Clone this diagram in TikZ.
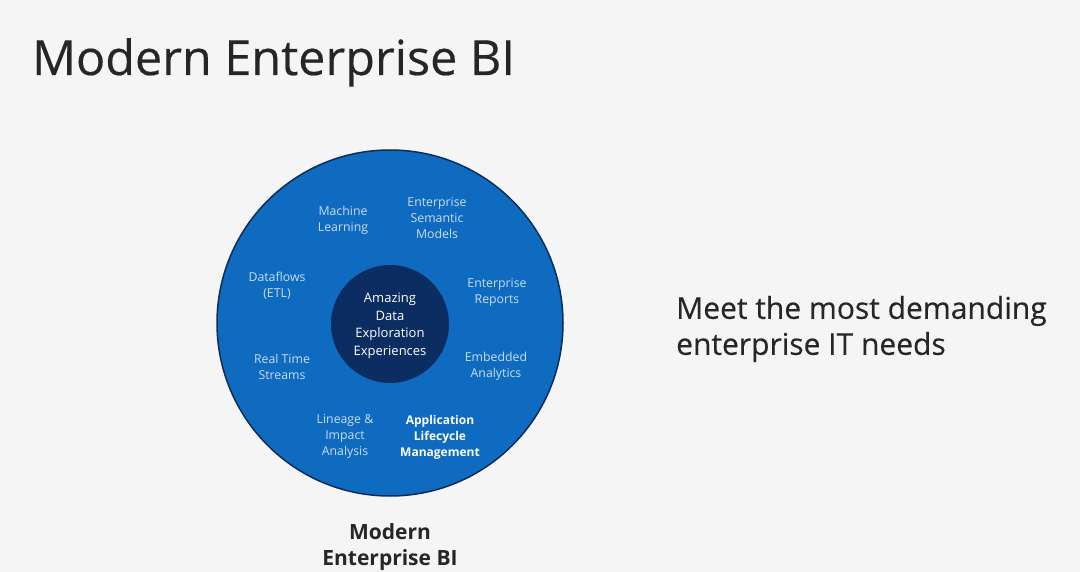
\documentclass[tikz,border=0pt]{standalone}
\usepackage{fontspec}
\setmainfont{Open Sans}
\newfontfamily\heavyfont{Open Sans}[FakeBold=0.35]
\definecolor{bg}{HTML}{F5F5F5}
\definecolor{ringblue}{HTML}{0F6BBF}
\definecolor{ringedge}{HTML}{0C2C5C}
\definecolor{core}{HTML}{0B2D62}
\definecolor{itemtext}{HTML}{C9DDF2}
\definecolor{titletext}{HTML}{262626}
\tikzset{
  item/.style={align=center, text=itemtext, font=\fontsize{12.3}{16}\selectfont, inner sep=0pt},
  itembold/.style={align=center, text=white, font=\fontsize{12}{16}\selectfont\bfseries, inner sep=0pt},
}
\begin{document}
\begin{tikzpicture}[x=1pt,y=-1pt]
\fill[bg] (0,0) rectangle (1080,572);
\useasboundingbox (0,0) rectangle (1080,572);
\node[anchor=base west, text=titletext, font=\fontsize{48.5}{60}\heavyfont, inner sep=0pt] (title) at (32,75) {Modern Enterprise BI};
\node[circle, minimum size=346pt, fill=ringblue, draw=ringedge, line width=1.5pt, inner sep=0pt] (ring) at (390,323) {};
\node[circle, minimum size=118pt, fill=core, inner sep=0pt] (core) at (390,324) {};
\node[align=center, text=white, font=\fontsize{13}{17.5}\selectfont, inner sep=0pt] (amazing) at (390,326) {Amazing\\Data\\Exploration\\Experiences};
\node[item] (ml) at (343,220) {Machine\\Learning};
\node[item] (esm) at (437,218) {Enterprise\\Semantic\\Models};
\node[item] (df) at (277,286) {Dataflows\\(ETL)};
\node[item] (er) at (497,292) {Enterprise\\Reports};
\node[item] (rts) at (282,367) {Real Time\\Streams};
\node[item] (ea) at (496,366) {Embedded\\Analytics};
\node[item] (lia) at (345,436) {Lineage \&\\Impact\\Analysis};
\node[itembold] (alm) at (440,437) {Application\\Lifecycle\\Management};
\node[align=center, text=titletext, font=\fontsize{21}{26}\selectfont\bfseries, inner sep=0pt] (caption) at (390,547) {Modern\\Enterprise BI};
\node[anchor=west, align=left, text=titletext, font=\fontsize{30}{36}\heavyfont, inner sep=0pt] (meet) at (676,329) {Meet the most demanding\\enterprise IT needs};
\end{tikzpicture}
\end{document}
